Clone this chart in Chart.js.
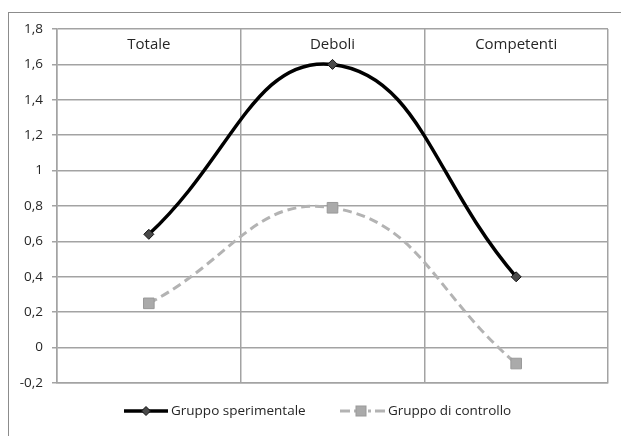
<!DOCTYPE html>
<html>
<head>
<meta charset="utf-8">
<script src="https://cdn.jsdelivr.net/npm/chart.js@4.4.1/dist/chart.umd.min.js"></script>
<style>
  html, body { margin: 0; padding: 0; background: #fff; }
  #wrap { position: relative; width: 621px; height: 436px; overflow: hidden; }
  #frame { position: absolute; left: 8px; top: 12px; width: 700px; height: 500px;
           border-left: 1px solid #8c8c8c; border-top: 1px solid #8c8c8c; }
  canvas { position: absolute; left: 0; top: 0; }
</style>
</head>
<body>
<div id="wrap">
  <div id="frame"></div>
  <canvas id="chart" width="621" height="436"></canvas>
</div>
<script>
// dati
const categorie = ['Totale', 'Deboli', 'Competenti'];
const sperimentale = [0.64, 1.6, 0.4];
const controllo = [0.25, 0.79, -0.09];
const yMin = -0.2, yMax = 1.8, yStep = 0.2;

const FONT = "'Open Sans', 'Liberation Sans', sans-serif";
const GRID = '#a3a3a3';
const TEXT = '#262626';

// etichette delle categorie dentro l'area del grafico, in alto
const categoryLabels = {
  id: 'categoryLabels',
  afterDatasetsDraw(chart) {
    const ctx = chart.ctx;
    const xs = chart.scales.x;
    ctx.save();
    ctx.font = '15px ' + FONT;
    ctx.fillStyle = TEXT;
    ctx.textAlign = 'center';
    ctx.textBaseline = 'middle';
    categorie.forEach((c, i) => {
      ctx.fillText(c, xs.getPixelForValue(i), chart.chartArea.top + 16);
    });
    ctx.restore();
  }
};

// legenda in basso, stile Excel
const bottomLegend = {
  id: 'bottomLegend',
  afterDraw(chart) {
    const ctx = chart.ctx;
    const y = 411;
    ctx.save();
    ctx.font = '13.5px ' + FONT;
    ctx.textBaseline = 'middle';

    // Gruppo sperimentale
    ctx.strokeStyle = '#000';
    ctx.lineWidth = 3.5;
    ctx.beginPath(); ctx.moveTo(124, y); ctx.lineTo(168, y); ctx.stroke();
    ctx.fillStyle = '#4a4a4a';
    ctx.strokeStyle = '#111';
    ctx.lineWidth = 1;
    ctx.beginPath();
    ctx.moveTo(146, y - 4.5); ctx.lineTo(150.5, y); ctx.lineTo(146, y + 4.5); ctx.lineTo(141.5, y);
    ctx.closePath(); ctx.fill(); ctx.stroke();
    ctx.fillStyle = TEXT;
    ctx.fillText(chart.data.datasets[0].label, 171, y);

    // Gruppo di controllo
    ctx.strokeStyle = '#b3b3b3';
    ctx.lineWidth = 3;
    ctx.setLineDash([10, 4, 10, 4, 3, 4]);
    ctx.beginPath(); ctx.moveTo(340, y); ctx.lineTo(385, y); ctx.stroke();
    ctx.setLineDash([]);
    ctx.fillStyle = '#aaaaaa';
    ctx.strokeStyle = '#999';
    ctx.lineWidth = 1;
    ctx.fillRect(356, y - 5, 10, 10);
    ctx.strokeRect(356, y - 5, 10, 10);
    ctx.fillStyle = TEXT;
    ctx.fillText(chart.data.datasets[1].label, 388, y);
    ctx.restore();
  }
};

const chart = new Chart(document.getElementById('chart'), {
  type: 'line',
  data: {
    labels: categorie,
    datasets: [
      {
        label: 'Gruppo sperimentale',
        data: sperimentale,
        borderColor: '#000',
        borderWidth: 3.5,
        tension: 0.45,
        pointStyle: 'rectRot',
        pointRadius: 5,
        pointBackgroundColor: '#4a4a4a',
        pointBorderColor: '#111',
        pointBorderWidth: 1,
        order: 1
      },
      {
        label: 'Gruppo di controllo',
        data: controllo,
        borderColor: '#b3b3b3',
        borderWidth: 3,
        borderDash: [9, 5],
        tension: 0.45,
        pointStyle: 'rect',
        pointRadius: 7.5,
        pointBackgroundColor: '#aaaaaa',
        pointBorderColor: '#999',
        pointBorderWidth: 1,
        order: 2
      }
    ]
  },
  options: {
    responsive: false,
    animation: false,
    layout: { padding: { top: 29, right: 13, bottom: 53, left: 0 } },
    plugins: {
      legend: { display: false },
      tooltip: { enabled: false }
    },
    scales: {
      x: {
        type: 'category',
        offset: true,
        ticks: { display: false },
        grid: { offset: true, color: GRID, lineWidth: 1.5, drawTicks: false },
        border: { color: GRID, width: 1.5 }
      },
      y: {
        min: yMin,
        max: yMax,
        afterFit(scale) { scale.width = 57; },
        ticks: {
          stepSize: yStep,
          padding: 9,
          color: TEXT,
          font: { family: FONT, size: 13.5 },
          callback: v => String(Number(v.toFixed(1))).replace('.', ',')
        },
        grid: { color: GRID, lineWidth: 1.5, tickLength: 5 },
        border: { color: GRID, width: 1.5 }
      }
    }
  },
  plugins: [categoryLabels, bottomLegend]
});
</script>
</body>
</html>
